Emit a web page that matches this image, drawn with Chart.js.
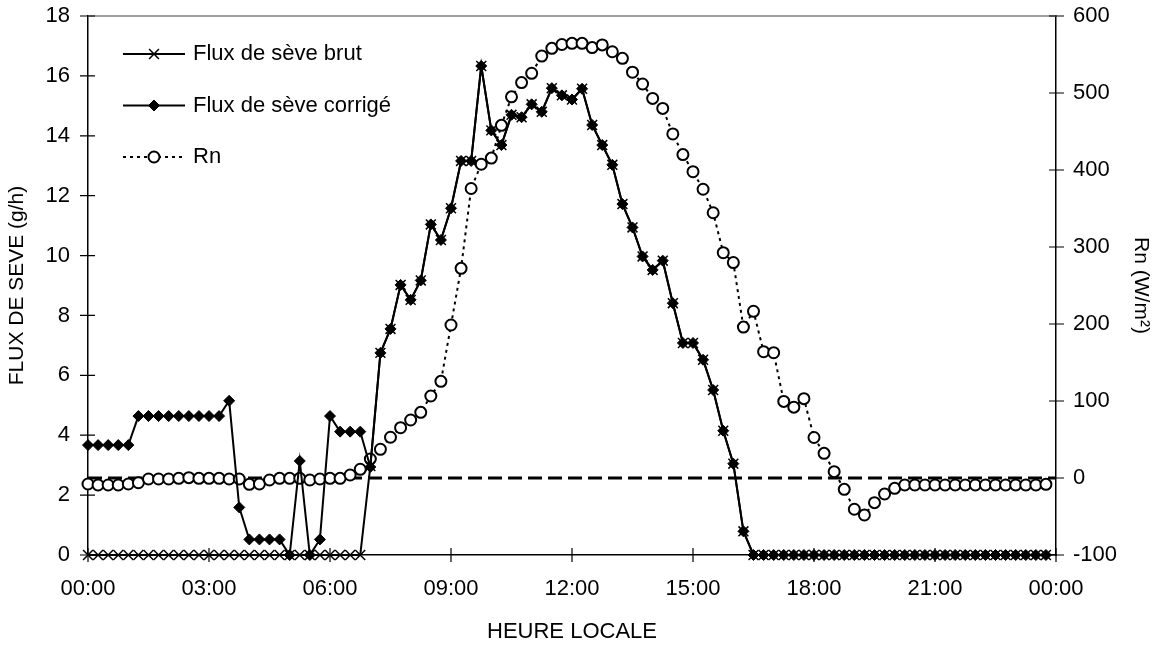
<!DOCTYPE html>
<html>
<head>
<meta charset="utf-8">
<script src="https://cdn.jsdelivr.net/npm/chart.js@4.4.0/dist/chart.umd.min.js"></script>
<style>
  body { margin: 0; background: #fff; }
  canvas { display: block; }
</style>
</head>
<body>
<canvas id="chart1" width="1158" height="646"></canvas>
<script>
// une mesure toutes les 15 min, de 00:00 à 23:45
const heures = Array.from({ length: 96 }, (_, i) => i / 4);
const tickLabels = ['00:00', '03:00', '06:00', '09:00', '12:00', '15:00', '18:00', '21:00', '00:00'];

const fluxBrut = [
  0, 0, 0, 0, 0, 0, 0, 0, 0, 0, 0, 0, 0, 0, 0, 0, 0, 0, 0, 0, 0, 0, 0, 0, 0, 0, 0, 0,
  2.97, 6.75, 7.55, 9.02, 8.52, 9.17, 11.04, 10.52, 11.58, 13.16, 13.16, 16.33,
  14.18, 13.69, 14.7, 14.62, 15.05, 14.8, 15.59, 15.35, 15.21, 15.57, 14.36, 13.69,
  13.03, 11.72, 10.94, 9.97, 9.52, 9.83, 8.41, 7.08, 7.08, 6.52, 5.51, 4.15, 3.05, 0.79,
  0, 0, 0, 0, 0, 0, 0, 0, 0, 0, 0, 0, 0, 0, 0, 0, 0, 0, 0, 0, 0, 0, 0, 0, 0, 0, 0, 0, 0, 0
];

const fluxCorrige = [
  3.67, 3.67, 3.67, 3.67, 3.67, 4.64, 4.64, 4.64, 4.64, 4.64, 4.64, 4.64, 4.64, 4.64,
  5.15, 1.59, 0.52, 0.52, 0.52, 0.52, 0, 3.14, 0, 0.52, 4.64, 4.12, 4.12, 4.12,
  2.94, 6.75, 7.55, 9.02, 8.52, 9.17, 11.04, 10.52, 11.58, 13.16, 13.16, 16.33,
  14.18, 13.69, 14.7, 14.62, 15.05, 14.8, 15.59, 15.35, 15.21, 15.57, 14.36, 13.69,
  13.03, 11.72, 10.94, 9.97, 9.52, 9.83, 8.41, 7.08, 7.08, 6.52, 5.51, 4.15, 3.05, 0.79,
  0, 0, 0, 0, 0, 0, 0, 0, 0, 0, 0, 0, 0, 0, 0, 0, 0, 0, 0, 0, 0, 0, 0, 0, 0, 0, 0, 0, 0, 0
];

const rn = [
  -7.8, -9.1, -9.1, -9.1, -7.8, -6.1, -1.3, -1.3, -1.3, -0.4, 0.4, -0.4, -0.4, -0.4,
  -1.3, -1.3, -8.2, -7.8, -2.6, -0.4, -0.4, -0.4, -2.6, -1.3, -0.4, -0.4, 3.9, 11.3,
  24.7, 37.3, 52.9, 65.3, 75.3, 85.3, 106.5, 125.5, 198.7, 272.3, 376, 407.5,
  415.5, 458, 495, 513.5, 525.6, 548, 558, 563, 564.5, 564.5, 559, 562.5,
  553.6, 545, 527, 511.7, 493, 480, 446.8, 420, 397.8, 375, 344.5, 292.6, 279.8, 196,
  216.5, 164, 162.7, 99.5, 92, 103, 52.6, 32, 8.2, -14.7, -40.6, -48, -32, -20.8,
  -13.4, -9.1, -9.1, -9.1, -9.1, -9.1, -9.1, -9.1, -9.1, -9.1, -9.1, -9.1, -9.1, -9.1, -9.1, -8.2
];

const rnZero = 0;

const police = '"Liberation Sans", Arial, sans-serif';

// graduations en croix + bord supérieur gris (style Excel)
const graduations = {
  id: 'graduations',
  beforeDatasetsDraw(chart) {
    const { ctx, chartArea: a, scales } = chart;
    ctx.save();
    ctx.strokeStyle = '#808080';
    ctx.lineWidth = 1.5;
    ctx.beginPath();
    ctx.moveTo(a.left, a.top);
    ctx.lineTo(a.right, a.top);
    ctx.stroke();
    ctx.strokeStyle = '#000';
    ctx.lineWidth = 1.2;
    ctx.beginPath();
    scales.x.ticks.forEach(t => {
      const px = scales.x.getPixelForValue(t.value);
      ctx.moveTo(px, a.bottom - 7);
      ctx.lineTo(px, a.bottom + 7);
    });
    scales.y.ticks.forEach(t => {
      const py = scales.y.getPixelForValue(t.value);
      ctx.moveTo(a.left - 8, py);
      ctx.lineTo(a.left + 7, py);
    });
    scales.y2.ticks.forEach(t => {
      const py = scales.y2.getPixelForValue(t.value);
      ctx.moveTo(a.right - 7, py);
      ctx.lineTo(a.right + 8, py);
    });
    ctx.stroke();
    ctx.restore();
  }
};

// légende avec segment + marqueur
const legende = {
  id: 'legende',
  afterDraw(chart) {
    const ctx = chart.ctx;
    ctx.save();
    ctx.font = '22px ' + police;
    ctx.textBaseline = 'middle';
    let k = 0;
    chart.data.datasets.forEach(ds => {
      if (!ds.label) return;
      const y = 54 + k * 51.5;
      ctx.save();
      ctx.strokeStyle = '#000';
      ctx.lineWidth = ds.borderWidth;
      ctx.setLineDash(ds.borderDash || []);
      ctx.beginPath();
      ctx.moveTo(123, y);
      ctx.lineTo(185, y);
      ctx.stroke();
      ctx.setLineDash([]);
      ctx.fillStyle = ds.pointBackgroundColor;
      ctx.strokeStyle = ds.pointBorderColor;
      ctx.lineWidth = ds.pointBorderWidth;
      Chart.helpers.drawPoint(ctx, {
        pointStyle: ds.pointStyle, radius: ds.pointRadius, rotation: 0, borderWidth: ds.pointBorderWidth
      }, 154, y);
      ctx.restore();
      ctx.fillStyle = '#000';
      ctx.fillText(ds.label, 193, y);
      k++;
    });
    ctx.restore();
  }
};

// les axes verticaux ne réservent pas de marge en haut / en bas
const sansMarge = s => { s.paddingTop = 0; s.paddingBottom = 0; };

const ctx = document.getElementById('chart1').getContext('2d');
const chart1 = new Chart(ctx, {
  type: 'line',
  data: {
    datasets: [
      {
        label: 'Flux de sève brut',
        data: heures.map((h, i) => ({ x: h, y: fluxBrut[i] })),
        yAxisID: 'y',
        borderColor: '#000',
        borderWidth: 2,
        pointStyle: 'crossRot',
        pointRadius: 7,
        pointBorderWidth: 1.5,
        pointBorderColor: '#000',
        pointBackgroundColor: '#000',
        order: 1,
        clip: false
      },
      {
        label: 'Flux de sève corrigé',
        data: heures.map((h, i) => ({ x: h, y: fluxCorrige[i] })),
        yAxisID: 'y',
        borderColor: '#000',
        borderWidth: 2,
        pointStyle: 'rectRot',
        pointRadius: 5.5,
        pointBorderWidth: 1,
        pointBorderColor: '#000',
        pointBackgroundColor: '#000',
        order: 2,
        clip: false
      },
      {
        label: 'Rn',
        data: heures.map((h, i) => ({ x: h, y: rn[i] })),
        yAxisID: 'y2',
        borderColor: '#000',
        borderWidth: 2,
        borderDash: [3, 4],
        pointStyle: 'circle',
        pointRadius: 5.5,
        pointBorderWidth: 2,
        pointBorderColor: '#000',
        pointBackgroundColor: '#fff',
        order: 3,
        clip: false
      },
      {
        data: [{ x: 0, y: rnZero }, { x: 24, y: rnZero }],
        yAxisID: 'y2',
        borderColor: '#000',
        borderWidth: 3,
        borderDash: [14, 6],
        pointRadius: 0,
        order: 4
      }
    ]
  },
  options: {
    responsive: false,
    animation: false,
    events: [],
    layout: { padding: { top: 16, left: 0, right: 0, bottom: 0 } },
    scales: {
      x: {
        type: 'linear',
        min: 0,
        max: 24,
        grid: { display: false, drawTicks: false },
        border: { color: '#000', width: 1.5 },
        ticks: {
          stepSize: 3,
          autoSkip: false,
          maxRotation: 0,
          padding: 21,
          color: '#000',
          font: { family: police, size: 22 },
          callback: v => tickLabels[v / 3]
        },
        title: {
          display: true,
          text: 'HEURE LOCALE',
          color: '#000',
          font: { family: police, size: 22 },
          padding: { top: 0, bottom: 1 }
        },
        afterFit: s => { s.height = 91; }
      },
      y: {
        position: 'left',
        min: 0,
        max: 18,
        grid: { display: false, drawTicks: false },
        border: { color: '#000', width: 1.5 },
        ticks: {
          stepSize: 2,
          padding: 18,
          color: '#000',
          font: { family: police, size: 22 }
        },
        title: {
          display: true,
          text: 'FLUX DE SEVE (g/h)',
          color: '#000',
          font: { family: police, size: 21 },
          padding: { top: 5, bottom: 0 }
        },
        afterFit: s => { s.width = 88; sansMarge(s); }
      },
      y2: {
        position: 'right',
        min: -100,
        max: 600,
        grid: { display: false, drawTicks: false },
        border: { color: '#000', width: 1.5 },
        ticks: {
          stepSize: 100,
          padding: 17,
          color: '#000',
          font: { family: police, size: 22 }
        },
        title: {
          display: true,
          text: 'Rn (W/m²)',
          color: '#000',
          font: { family: police, size: 21 },
          padding: { top: 5, bottom: 0 }
        },
        afterFit: s => { s.width = 102; sansMarge(s); }
      }
    },
    plugins: {
      legend: { display: false },
      tooltip: { enabled: false }
    }
  },
  plugins: [graduations, legende]
});
</script>
</body>
</html>
